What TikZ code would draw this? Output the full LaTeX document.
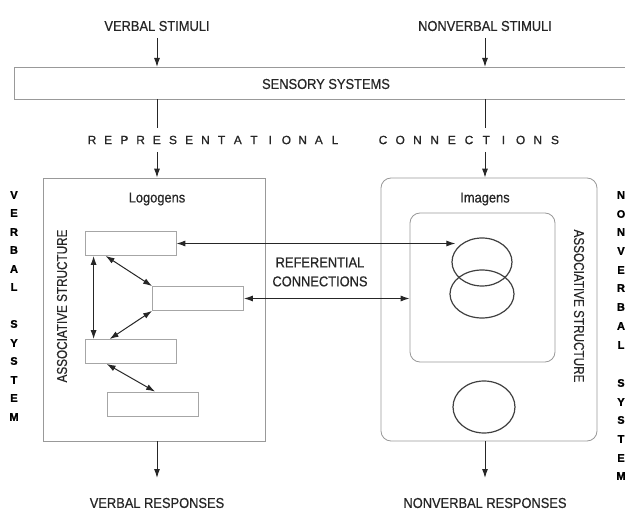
\documentclass[tikz,border=0pt]{standalone}
\usepackage{fontspec}
\setmainfont{Liberation Sans}
\newfontfamily\narrowfont[FakeStretch=0.9,FakeBold=0.6]{Liberation Sans}
\newfontfamily\slimfont[FakeStretch=0.82,FakeBold=0.6]{Liberation Sans}
\newfontfamily\spacedfont[FakeBold=0.8]{Liberation Sans}
\newfontfamily\sysfont[FakeBold=1.2]{Liberation Sans Bold}
\usetikzlibrary{arrows.meta,shapes.geometric,calc}

\tikzset{
  lbl/.style={font=\narrowfont\fontsize{14.3}{16}\selectfont, text=black!85, inner sep=0pt},
  slim/.style={font=\slimfont\fontsize{14.3}{16}\selectfont, text=black!85, inner sep=0pt},
  syslet/.style={font=\sysfont\fontsize{11}{12}\selectfont, text=black, inner sep=0pt},
  spaced/.style={font=\spacedfont\fontsize{12}{14}\selectfont, text=black!85, inner sep=0pt},
  frame/.style={draw=black!40, line width=0.8pt},
  wordbox/.style={draw=black!35, line width=0.8pt, minimum width=91pt, minimum height=24pt, inner sep=0pt},
  tip/.tip={Latex[length=9pt,width=6pt]},
  arr/.style={-tip, line width=1pt, draw=black!85},
  dbl/.style={tip-tip, line width=1pt, draw=black!85},
  plain/.style={line width=1pt, draw=black!85},
  img/.style={ellipse, draw=black!75, line width=1.2pt, minimum width=60pt, minimum height=48pt, inner sep=0pt},
}

\begin{document}
\begin{tikzpicture}[x=1pt,y=-1pt]
\useasboundingbox (0,0) rectangle (625,516);

% inputs and sensory systems
\node[lbl] (vs)  at (157,26) {VERBAL STIMULI};
\node[lbl] (nvs) at (485,26) {NONVERBAL STIMULI};
\coordinate (vsA)  at (157,38);
\coordinate (nvsA) at (485,38);
\coordinate (sbTL) at (14,67);
\coordinate (sbBL) at (14,99);
\draw[frame] (625,67) -- (sbTL) -- (sbBL) -- (625,99);
\node[lbl] (sens) at (326,84) {SENSORY SYSTEMS};
\draw[arr] (vsA) -- (vsA |- sbTL);
\draw[arr] (nvsA) -- (nvsA |- sbTL);
\draw[plain] (vsA |- sbBL) -- (157,128);
\draw[plain] (nvsA |- sbBL) -- (485,128);

% spaced heading
\foreach \c [count=\i from 0] in {R,E,P,R,E,S,E,N,T,A,T,I,O,N,A,L}
  \node[spaced] (rep\i) at (92+\i*16.2,140) {\c};
\foreach \c [count=\i from 0] in {C,O,N,N,E,C,T,I,O,N,S}
  \node[spaced] (con\i) at (383+\i*17.2,140) {\c};

% system boxes
\node[frame, minimum width=222pt, minimum height=263pt, inner sep=0pt] (lbox) at (154,309.5) {};
\node[frame, rounded corners=10pt, minimum width=216pt, minimum height=263pt, inner sep=0pt] (rbox) at (489,309.5) {};
\node[frame, rounded corners=10pt, minimum width=145pt, minimum height=149pt, inner sep=0pt] (ibox) at (482.5,287.5) {};
\coordinate (lin) at (157,152);
\coordinate (rin) at (485,152);
\draw[arr] (lin) -- (lin |- lbox.north);
\draw[arr] (rin) -- (rin |- rbox.north);

\node[lbl] (logo) at (157,199) {Logogens};
\node[lbl] (imag) at (485,199) {Imagens};
\node[slim, rotate=90]  (assL) at (62,306)  {ASSOCIATIVE STRUCTURE};
\node[slim, rotate=-90] (assR) at (579,306) {ASSOCIATIVE STRUCTURE};

% logogens
\node[wordbox] (w1) at (130.5,243.5) {};
\node[wordbox] (w2) at (198,298.5) {};
\node[wordbox] (w3) at (130.5,351.5) {};
\node[wordbox] (w4) at (153,404) {};
\draw[dbl] ([xshift=9pt]w1.south west) -- ([xshift=9pt]w3.north west);
\draw[dbl] ([xshift=21pt]w1.south west) -- (w2.north west);
\draw[dbl] ([xshift=25pt]w3.north west) -- (w2.south west);
\draw[dbl] ([xshift=22pt]w3.south west) -- ([xshift=48pt]w4.north west);

% imagens
\node[img] (c1) at (482,262) {};
\node[img, minimum width=64pt] (c2) at (482,294) {};
\node[img, minimum width=62pt, minimum height=52pt] (c3) at (484,407) {};

% referential connections
\draw[dbl] (w1.east) -- ([xshift=4pt]w1.east -| c1.west);
\draw[dbl] (w2.east) -- (w2.east -| ibox.west);
\node[lbl, align=center, font=\narrowfont\fontsize{14.3}{19}\selectfont] (ref) at (320,272) {REFERENTIAL\\CONNECTIONS};

% outputs
\coordinate (lout) at (157,478);
\coordinate (rout) at (485,478);
\node[lbl] (vr)  at (157,503) {VERBAL RESPONSES};
\node[lbl] (nvr) at (485,503) {NONVERBAL RESPONSES};
\draw[arr] (lout |- lbox.south) -- (lout);
\draw[arr] (rout |- rbox.south) -- (rout);

% side labels
\foreach \c/\y [count=\i] in {V/195,E/213,R/232,B/250,A/269,L/287,S/324,Y/343,S/361,T/380,E/398,M/417}
  \node[syslet] (vsys\i) at (14,\y) {\c};
\foreach \c/\y [count=\i] in {N/195,O/214,N/232,V/251,E/270,R/288,B/307,A/326,L/345,S/383,Y/402,S/420,T/439,E/458,M/476}
  \node[syslet] (nsys\i) at (621,\y) {\c};
\end{tikzpicture}
\end{document}
